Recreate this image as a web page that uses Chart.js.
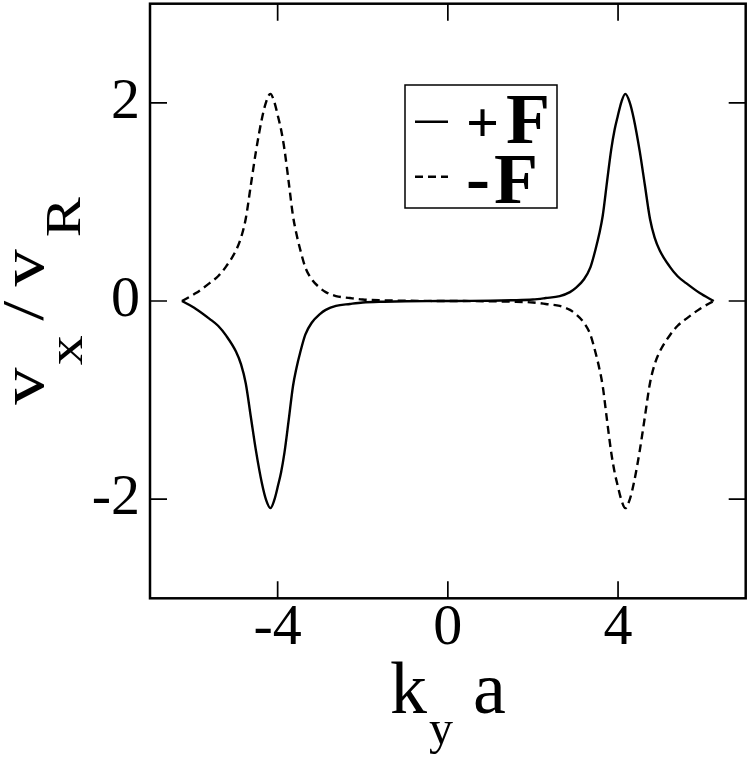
<!DOCTYPE html>
<html>
<head>
<meta charset="utf-8">
<script src="https://cdn.jsdelivr.net/npm/chart.js@4/dist/chart.umd.min.js"></script>
<style>
  html, body { margin: 0; padding: 0; background: #fff; }
  #wrap { width: 749px; height: 757px; }
</style>
</head>
<body>
<div id="wrap"><canvas id="chart" width="749" height="757"></canvas></div>
<script>
// k_y a sample positions
const kyA = [
  -6.25, -5.92, -5.6, -5.4, -5.21, -4.98, -4.86, -4.75, -4.63, -4.51, -4.37, -4.27, -4.17, -4.08, -3.99, -3.92,
  -3.84, -3.74, -3.64, -3.56, -3.47, -3.35, -3.2, -3.0, -2.87, -2.63, -2.3, -2.0, -1.5, -1.0, -0.5,
  0,
  0.5, 1.0, 1.5, 2.0, 2.3, 2.63, 2.87, 3.0, 3.2, 3.35, 3.47, 3.56, 3.64, 3.74, 3.84,
  3.92, 3.99, 4.08, 4.17, 4.27, 4.37, 4.51, 4.63, 4.75, 4.86, 4.98, 5.21, 5.4, 5.6, 5.92, 6.25,
]

// v_x / v_R for +F (solid)
const plusF = [
  0, -0.08, -0.18, -0.25, -0.35, -0.51, -0.64, -0.83, -1.17, -1.51, -1.84, -2.01, -2.09, -2.01, -1.86, -1.73,
  -1.53, -1.2, -0.86, -0.68, -0.52, -0.34, -0.22, -0.13, -0.09, -0.05, -0.03, -0.015, -0.007, -0.003, -0.001,
  0,
  0.001, 0.003, 0.007, 0.015, 0.03, 0.05, 0.09, 0.13, 0.22, 0.34, 0.52, 0.68, 0.86, 1.2, 1.53,
  1.73, 1.86, 2.01, 2.09, 2.01, 1.84, 1.51, 1.17, 0.83, 0.64, 0.51, 0.35, 0.25, 0.18, 0.08, 0,
]

// v_x / v_R for -F (dashed)
const minusF = [
  0, 0.08, 0.18, 0.25, 0.35, 0.51, 0.64, 0.83, 1.17, 1.51, 1.84, 2.01, 2.09, 2.01, 1.86, 1.73,
  1.53, 1.2, 0.86, 0.68, 0.52, 0.34, 0.22, 0.13, 0.09, 0.05, 0.03, 0.015, 0.007, 0.003, 0.001,
  0,
  -0.001, -0.003, -0.007, -0.015, -0.03, -0.05, -0.09, -0.13, -0.22, -0.34, -0.52, -0.68, -0.86, -1.2, -1.53,
  -1.73, -1.86, -2.01, -2.09, -2.01, -1.84, -1.51, -1.17, -0.83, -0.64, -0.51, -0.35, -0.25, -0.18, -0.08, 0,
]

const xTicks = [-4, 0, 4]
const yTicks = [-2, 0, 2]
const xRange = [-7, 7]
const yRange = [-3, 3]

const SERIF = "'Liberation Serif', 'Times New Roman', serif"

function points(xs, ys) {
  return xs.map((x, i) => ({ x, y: ys[i] }))
}

function drawRich(ctx, segs) {
  let cursor = 0
  for (const seg of segs) {
    ctx.font = `${seg.weight || 'normal'} ${seg.size}px ${SERIF}`
    cursor += seg.gap || 0
    ctx.fillText(seg.text, cursor, seg.shift || 0)
    cursor += ctx.measureText(seg.text).width
  }
  return cursor
}

function richWidth(ctx, segs) {
  let w = 0
  for (const seg of segs) {
    ctx.font = `${seg.weight || 'normal'} ${seg.size}px ${SERIF}`
    w += (seg.gap || 0) + ctx.measureText(seg.text).width
  }
  return w
}

const framePlugin = {
  id: 'frame',
  afterDraw(chart) {
    const { ctx, chartArea: a, scales } = chart
    ctx.save()
    ctx.strokeStyle = '#000'
    ctx.lineWidth = 1.7
    const tl = 17
    ctx.beginPath()
    for (const v of xTicks) {
      const px = scales.x.getPixelForValue(v)
      ctx.moveTo(px, a.bottom); ctx.lineTo(px, a.bottom - tl)
      ctx.moveTo(px, a.top); ctx.lineTo(px, a.top + tl)
    }
    for (const v of yTicks) {
      const py = scales.y.getPixelForValue(v)
      ctx.moveTo(a.left, py); ctx.lineTo(a.left + tl, py)
      ctx.moveTo(a.right, py); ctx.lineTo(a.right - tl, py)
    }
    ctx.stroke()
    ctx.lineWidth = 2.5
    ctx.strokeRect(a.left, a.top, a.right - a.left, a.bottom - a.top)
    ctx.restore()
  },
}

const titlesPlugin = {
  id: 'titles',
  afterDraw(chart) {
    const { ctx, chartArea: a } = chart
    ctx.save()
    ctx.fillStyle = '#000'
    ctx.textBaseline = 'alphabetic'
    ctx.textAlign = 'left'

    // x title: k_y a
    const xSegs = [
      { text: 'k', size: 74 },
      { text: 'y', size: 48, shift: 31, gap: 2 },
      { text: 'a', size: 74, gap: 20 },
    ]
    const xw = richWidth(ctx, xSegs)
    ctx.save()
    ctx.translate((a.left + a.right) / 2 - xw / 2, 713)
    drawRich(ctx, xSegs)
    ctx.restore()

    // y title: v_x / v_R (rotated)
    const stretch = 1.2
    const ySegs = [
      { text: 'v', size: 62 },
      { text: 'x', size: 50, shift: 39, gap: 2 },
      { text: '/', size: 60, gap: 12 },
      { text: 'v', size: 62, gap: 12 },
      { text: 'R', size: 50, shift: 37, gap: 10 },
    ]
    const yw = richWidth(ctx, ySegs) * stretch
    ctx.save()
    ctx.translate(43, (a.top + a.bottom) / 2 + yw / 2)
    ctx.rotate(-Math.PI / 2)
    ctx.scale(stretch, 1)
    drawRich(ctx, ySegs)
    ctx.restore()
    ctx.restore()
  },
}

const legendPlugin = {
  id: 'boxLegend',
  afterDraw(chart, args, opts) {
    const { ctx } = chart
    const ds = chart.data.datasets
    ctx.save()
    ctx.strokeStyle = '#000'
    ctx.fillStyle = '#000'
    ctx.lineWidth = 1.5
    ctx.strokeRect(opts.left, opts.top, opts.width, opts.height)

    opts.rows.forEach((row, i) => {
      const d = ds[i]
      ctx.save()
      ctx.lineWidth = d.borderWidth
      ctx.setLineDash(d.borderDash || [])
      ctx.beginPath()
      ctx.moveTo(opts.left + 10, row.lineY)
      ctx.lineTo(opts.left + 43, row.lineY)
      ctx.stroke()
      ctx.restore()
      ctx.textBaseline = 'alphabetic'
      ctx.textAlign = 'left'
      ctx.font = `bold ${row.signSize}px ${SERIF}`
      ctx.fillText(row.sign, opts.left + 61, row.signBase)
      ctx.font = `bold 72px ${SERIF}`
      ctx.fillText('F', row.fX, row.fBase)
    })
    ctx.restore()
  },
}

new Chart(document.getElementById('chart'), {
  type: 'scatter',
  data: {
    datasets: [
      {
        label: '+F',
        data: points(kyA, plusF),
        showLine: true,
        borderColor: '#000',
        borderWidth: 2.4,
        pointRadius: 0,
        cubicInterpolationMode: 'monotone',
        fill: false,
      },
      {
        label: '-F',
        data: points(kyA, minusF),
        showLine: true,
        borderColor: '#000',
        borderWidth: 2.4,
        borderDash: [8, 5],
        pointRadius: 0,
        cubicInterpolationMode: 'monotone',
        fill: false,
      },
    ],
  },
  plugins: [framePlugin, titlesPlugin, legendPlugin],
  options: {
    responsive: false,
    animation: false,
    devicePixelRatio: 1,
    layout: { padding: { left: 0, top: 3.7, right: 3.3, bottom: 0 } },
    plugins: {
      legend: { display: false },
      tooltip: { enabled: false },
      boxLegend: {
        left: 405, top: 85, width: 152, height: 123,
        rows: [
          { lineY: 121.7, sign: '+', signSize: 58, signBase: 142, fX: 506, fBase: 143 },
          { lineY: 176.7, sign: '-', signSize: 72, signBase: 202, fX: 494, fBase: 203 },
        ],
      },
    },
    scales: {
      x: {
        type: 'linear',
        min: xRange[0],
        max: xRange[1],
        afterBuildTicks: (s) => { s.ticks = xTicks.map((value) => ({ value })) },
        afterFit: (s) => { s.height = 158.7; s.paddingLeft = 0; s.paddingRight = 0 },
        grid: { display: false, drawTicks: false },
        border: { display: false },
        ticks: {
          color: '#000',
          padding: -4,
          font: { family: SERIF, size: 58 },
          callback: (v) => String(v),
        },
      },
      y: {
        type: 'linear',
        min: yRange[0],
        max: yRange[1],
        afterBuildTicks: (s) => { s.ticks = yTicks.map((value) => ({ value })) },
        afterFit: (s) => { s.width = 150; s.paddingTop = 0; s.paddingBottom = 0 },
        grid: { display: false, drawTicks: false },
        border: { display: false },
        ticks: {
          color: '#000',
          padding: 10,
          font: { family: SERIF, size: 58 },
          callback: (v) => String(v),
        },
      },
    },
  },
})
</script>
</body>
</html>
